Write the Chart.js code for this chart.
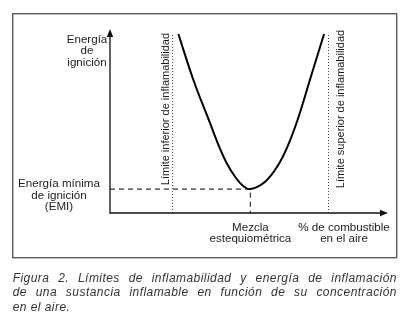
<!DOCTYPE html>
<html>
<head>
<meta charset="utf-8">
<script src="https://cdn.jsdelivr.net/npm/chart.js@4"></script>
<style>
  html, body { margin: 0; padding: 0; background: #fff; }
  #wrap { position: relative; width: 414px; height: 323px; overflow: hidden; }
  #fig { position: absolute; left: 0; top: 0; }
  .cap {
    position: absolute; left: 12.7px; width: 384.3px;
    font: italic 12px "Liberation Sans", Arial, sans-serif;
    color: #333; line-height: 14.5px;
    letter-spacing: 0.45px;
  }
  .just { text-align: justify; text-align-last: justify; }
</style>
</head>
<body>
<div id="wrap">
  <canvas id="fig" width="414" height="323"></canvas>
  <div class="cap just" style="top:270.5px">Figura 2. Límites de inflamabilidad y energía de inflamación</div>
  <div class="cap just" style="top:285px">de una sustancia inflamable en función de su concentración</div>
  <div class="cap" style="top:299.5px">en el aire.</div>
</div>
<script>
// Ignition energy curve (arbitrary units, 0–100 on both axes)
const concentration  = [24.6, 30.0, 36.0, 39.0, 42.0, 45.0, 47.9, 50.5, 55.8, 60.5, 64.1, 67.7, 71.9, 77.0];
const ignitionEnergy = [97.3, 72.3, 48.8, 37.0, 27.0, 19.7, 14.7, 13.0, 17.0, 26.1, 37.0, 51.6, 72.3, 97.3];

// Flammability limits and the stoichiometric minimum
const lowerLimit = 22.5;
const upperLimit = 78.6;
const limitTop = 97.8;
const stoichiometric = 50.5;
const minimumEnergy = 13.0;

// Texts
const yTitle = ['Energía', 'de', 'ignición'];
const emiLabel = ['Energía mínima', 'de ignición', '(EMI)'];
const stoichLabel = ['Mezcla', 'estequiométrica'];
const xTitle = ['% de combustible', 'en el aire'];
const lowerLabel = 'Límite inferior de inflamabilidad';
const upperLabel = 'Límite superior de inflamabilidad';

const curve = concentration.map((x, i) => ({ x, y: ignitionEnergy[i] }));

const FONT = '"Liberation Sans", Arial, sans-serif';

const figurePlugin = {
  id: 'figure',
  beforeDatasetsDraw(chart) {
    const ctx = chart.ctx;
    ctx.save();
    // outer frame
    ctx.strokeStyle = '#5c5c5c';
    ctx.lineWidth = 1.4;
    ctx.strokeRect(12.7, 13.7, 384, 244);
    ctx.restore();
  },
  afterDatasetsDraw(chart) {
    const ctx = chart.ctx;
    const a = chart.chartArea;
    const xs = chart.scales.x, ys = chart.scales.y;
    ctx.save();
    // axes with arrow heads
    ctx.strokeStyle = '#111';
    ctx.fillStyle = '#111';
    ctx.lineWidth = 1.3;
    ctx.beginPath();
    ctx.moveTo(a.left, a.top + 6);
    ctx.lineTo(a.left, a.bottom);
    ctx.lineTo(a.right - 6, a.bottom);
    ctx.stroke();
    ctx.beginPath();
    ctx.moveTo(a.left, a.top);
    ctx.lineTo(a.left - 3.2, a.top + 8);
    ctx.lineTo(a.left + 3.2, a.top + 8);
    ctx.closePath();
    ctx.fill();
    ctx.beginPath();
    ctx.moveTo(a.right, a.bottom);
    ctx.lineTo(a.right - 8, a.bottom - 3.2);
    ctx.lineTo(a.right - 8, a.bottom + 3.2);
    ctx.closePath();
    ctx.fill();

    // labels
    ctx.fillStyle = '#1c1c1c';
    ctx.font = '11.6px ' + FONT;
    ctx.textAlign = 'center';
    ctx.textBaseline = 'middle';
    yTitle.forEach((t, i) => ctx.fillText(t, a.left - 23, a.top + 10.5 + i * 11.5));

    const yEmi = ys.getPixelForValue(minimumEnergy);
    emiLabel.forEach((t, i) => ctx.fillText(t, a.left - 51, yEmi - 5 + i * 11.5));

    const xSt = xs.getPixelForValue(stoichiometric);
    stoichLabel.forEach((t, i) => ctx.fillText(t, xSt, a.bottom + 14.5 + i * 11.5));
    xTitle.forEach((t, i) => ctx.fillText(t, a.right - 44, a.bottom + 14.5 + i * 11.5));

    // rotated limit labels
    ctx.font = '11px ' + FONT;
    ctx.textBaseline = 'alphabetic';
    const midY = (ys.getPixelForValue(limitTop) + a.bottom - 28) / 2;
    ctx.save();
    ctx.translate(xs.getPixelForValue(lowerLimit) - 4, midY);
    ctx.rotate(-Math.PI / 2);
    ctx.fillText(lowerLabel, 0, 0);
    ctx.restore();
    ctx.save();
    ctx.translate(xs.getPixelForValue(upperLimit) + 15.5, midY);
    ctx.rotate(-Math.PI / 2);
    ctx.fillText(upperLabel, 0, 0);
    ctx.restore();
    ctx.restore();
  }
};

new Chart(document.getElementById('fig'), {
  type: 'line',
  data: {
    datasets: [
      {
        data: curve,
        borderColor: '#000',
        borderWidth: 2,
        pointRadius: 0,
        tension: 0.4
      },
      {
        data: [{ x: lowerLimit, y: 0 }, { x: lowerLimit, y: limitTop }],
        borderColor: '#444',
        borderWidth: 1,
        borderDash: [1, 2],
        pointRadius: 0
      },
      {
        data: [{ x: upperLimit, y: 0 }, { x: upperLimit, y: limitTop }],
        borderColor: '#444',
        borderWidth: 1,
        borderDash: [1, 2],
        pointRadius: 0
      },
      {
        data: [{ x: 0, y: minimumEnergy }, { x: stoichiometric, y: minimumEnergy }, { x: stoichiometric, y: 0 }],
        borderColor: '#333',
        borderWidth: 1.2,
        borderDash: [5, 4],
        pointRadius: 0
      }
    ]
  },
  options: {
    responsive: false,
    animation: false,
    devicePixelRatio: 1,
    layout: { padding: { left: 110, right: 26, top: 29, bottom: 110 } },
    plugins: { legend: { display: false }, tooltip: { enabled: false } },
    scales: {
      x: { type: 'linear', min: 0, max: 100, display: false },
      y: { type: 'linear', min: 0, max: 100, display: false }
    }
  },
  plugins: [figurePlugin]
});
</script>
</body>
</html>
